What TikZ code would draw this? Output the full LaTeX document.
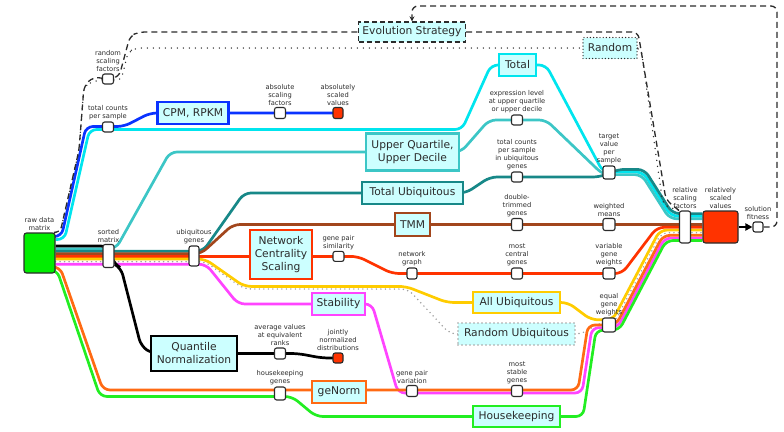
\documentclass[tikz,border=0pt]{standalone}
\usepackage{fontspec}
\setmainfont{DejaVu Sans}
\usetikzlibrary{arrows.meta,backgrounds}
\definecolor{ink}{HTML}{2B2B2B}
\definecolor{pale}{HTML}{CCFFFF}
\definecolor{cblue}{HTML}{0A33FF}
\definecolor{ccyan}{HTML}{00E5EE}
\definecolor{cteal}{HTML}{3CC6C6}
\definecolor{cdteal}{HTML}{178888}
\definecolor{cbrown}{HTML}{A2461C}
\definecolor{cred}{HTML}{FF3300}
\definecolor{cyellow}{HTML}{FFCC00}
\definecolor{cmagenta}{HTML}{FF44FF}
\definecolor{corange}{HTML}{FF6A13}
\definecolor{cgreen}{HTML}{22EE22}
\definecolor{cgray}{HTML}{A0A0A0}
\definecolor{rawgreen}{HTML}{00EE00}

\begin{document}
\begin{tikzpicture}[x=1pt, y=-1pt,
    route/.style={line width=2.7pt, rounded corners=7pt},
    stn/.style={draw=ink, fill=white, line width=1.1pt, rounded corners=2.2pt,
      inner sep=0pt, minimum width=11pt, minimum height=11pt},
    sink/.style={stn, fill=cred},
    lbl/.style={font=\fontsize{6.7}{8}\selectfont, text=ink, align=center, inner sep=1.2pt},
    algo/.style={fill=pale, line width=2.5pt, text=ink, align=center, inner sep=0pt,
      font=\fontsize{10.7}{13}\selectfont},
    esline/.style={draw=ink, line width=1.3pt, dash pattern=on 6pt off 4pt, rounded corners=6pt},
    rndline/.style={draw=ink, line width=1.5pt, dash pattern=on 0pt off 6pt, line cap=round, rounded corners=6pt}]
  % fixed 784 x 431 canvas, y grows downwards
  \useasboundingbox (0,0) rectangle (784,431);

  % ================= stations =================
  \node[draw=ink, fill=rawgreen, line width=1.1pt, rounded corners=2.5pt, inner sep=0pt,
        minimum width=31pt, minimum height=40pt,
        label={[lbl]above:{raw data\\matrix}}] (raw) at (39.5,253) {};
  \node[stn, minimum height=23pt, label={[lbl]above:{sorted\\matrix}}] (sorted) at (108.5,256) {};
  \node[stn, minimum width=10pt, minimum height=20pt, label={[lbl]above:{ubiquitous\\genes}}] (ubi) at (194,256) {};
  \node[stn, minimum height=10pt, label={[lbl]above:{random\\scaling\\factors}}] (rand) at (108,79) {};
  \node[stn, minimum height=10pt, label={[lbl]above:{total counts\\per sample}}] (tcps) at (108,127) {};
  \node[stn, label={[lbl]above:{absolute\\scaling\\factors}}] (asf) at (280,113) {};
  \node[sink, minimum width=10pt, label={[lbl]above:{absolutely\\scaled\\values}}] (asv) at (338,113) {};
  \node[stn, minimum height=10pt, label={[lbl]above:{expression level\\at upper quartile\\or upper decile}}] (exp) at (517,120) {};
  \node[stn, minimum height=10pt, label={[lbl]above:{total counts\\per sample\\in ubiquitous\\genes}}] (tcpsug) at (517,177) {};
  \node[stn, minimum width=12pt, minimum height=13pt, label={[lbl]above:{target\\value\\per\\sample}}] (tvps) at (609,172.5) {};
  \node[stn, minimum height=12pt, label={[lbl]above:{double-\\trimmed\\genes}}] (dtg) at (517,224.5) {};
  \node[stn, minimum width=12pt, minimum height=12pt, label={[lbl]above:{weighted\\means}}] (wm) at (609,224.5) {};
  \node[stn, minimum height=10pt, label={[lbl]above:{gene pair\\similarity}}] (gps) at (338.5,256.4) {};
  \node[stn, minimum width=10pt, label={[lbl]above:{network\\graph}}] (ng) at (412,273.5) {};
  \node[stn, label={[lbl]above:{most\\central\\genes}}] (mcg) at (517,273.5) {};
  \node[stn, minimum width=12pt, label={[lbl]above:{variable\\gene\\weights}}] (vgw) at (609,273.5) {};
  \node[stn, minimum width=13pt, minimum height=14pt, label={[lbl]above:{equal\\gene\\weights}}] (egw) at (609,325) {};
  \node[stn, label={[lbl]above:{average values\\at equivalent\\ranks}}] (avg) at (280,353.5) {};
  \node[sink, minimum width=10pt, minimum height=10pt, label={[lbl]above:{jointly\\normalized\\distributions}}] (jnd) at (338,358) {};
  \node[stn, minimum height=13pt, label={[lbl]above:{housekeeping\\genes}}] (hk) at (280,393.5) {};
  \node[stn, label={[lbl]above:{gene pair\\variation}}] (gpv) at (412,391) {};
  \node[stn, label={[lbl]above:{most\\stable\\genes}}] (msg) at (517,391) {};
  \node[stn, minimum height=32pt, label={[lbl]above:{relative\\scaling\\factors}}] (rsf) at (685,227) {};
  \node[draw=ink, fill=cred, line width=1.1pt, rounded corners=2.5pt, inner sep=0pt,
        minimum width=35pt, minimum height=32pt,
        label={[lbl]above:{relatively\\scaled\\values}}] (rsv) at (720.5,227) {};
  \node[stn, minimum width=10pt, minimum height=10pt, label={[lbl]above:{solution\\fitness}}] (fit) at (758,227) {};

  % ================= methods =================
  \node[algo, draw=cblue, minimum width=71pt, minimum height=22pt] (cpm) at (193,113) {CPM, RPKM};
  \node[algo, draw=ccyan, minimum width=37pt, minimum height=22pt] (total) at (517.5,65) {Total};
  \node[algo, draw=cteal, minimum width=93pt, minimum height=37pt] (uq) at (412.5,152) {Upper Quartile,\\Upper Decile};
  \node[algo, draw=cdteal, minimum width=101pt, minimum height=22pt] (tu) at (412.5,193) {Total Ubiquitous};
  \node[algo, draw=cbrown, minimum width=35pt, minimum height=23pt] (tmm) at (412.5,224.5) {TMM};
  \node[algo, draw=cred, minimum width=62pt, minimum height=49pt] (ncs) at (281,254.5) {Network\\Centrality\\Scaling};
  \node[algo, draw=cmagenta, minimum width=53pt, minimum height=22pt] (stab) at (338.5,304) {Stability};
  \node[algo, draw=cyellow, minimum width=87pt, minimum height=21pt] (aub) at (516.5,302.5) {All Ubiquitous};
  \node[algo, draw=cgray, dash pattern=on 0pt off 4pt, line cap=round, line width=1.6pt,
        minimum width=117pt, minimum height=22pt] (rub) at (516.5,334) {Random Ubiquitous};
  \node[algo, draw=black, minimum width=86pt, minimum height=35pt] (qn) at (194,353.5) {Quantile\\Normalization};
  \node[algo, draw=corange, minimum width=54pt, minimum height=22pt] (genorm) at (339,392) {geNorm};
  \node[algo, draw=cgreen, minimum width=87pt, minimum height=21pt] (hkb) at (516.5,416.5) {Housekeeping};
  \node[algo, draw=ink, dash pattern=on 5pt off 3pt, line width=1.3pt,
        minimum width=107pt, minimum height=20pt] (es) at (412,32) {Evolution Strategy};
  \node[algo, draw=ink, dash pattern=on 0pt off 3.2pt, line cap=round, line width=1.4pt,
        minimum width=54pt, minimum height=21pt] (rnd) at (610,48) {Random};

  % ================= routes =================
  \begin{pgfonlayer}{background}
    % random ubiquitous genes (dotted)
    \draw[route, cgray, line width=1.7pt, dash pattern=on 0pt off 4.5pt, line cap=round]
      (raw.east |- 0,261.6) -- (205,261.6) -- (244,289) -- (408,289) -- (450,334) -- (rub.center)
      -- (582,334) -- (600,322.4) -- (614.4,322.4) -- (661.4,232.7) -- (rsv.west |- 0,232.7);
    % absolute scaling
    \draw[route, cblue] (raw.east |- 0,236.5) -- (61.5,236.5) -- (86,126.5) -- (124,126.5)
      -- (150,113) -- (cpm.center) -- (asf.center) -- (asv.center);
    % relative scaling, top bundle
    \draw[route, ccyan] (raw.east |- 0,239.5) -- (64.5,239.5) -- (89.5,129.5) -- (462,129.5)
      -- (491,65) -- (total.center) -- (546,65) -- (603,172) -- (643,172) -- (671,216.2)
      -- (rsv.west |- 0,216.2);
    \draw[route, cteal] (raw.east |- 0,248.6) -- (116,248.6) -- (170,152) -- (uq.center)
      -- (461,152) -- (489,120) -- (exp.center) -- (546,120) -- (603,174.6) -- (641.6,174.6)
      -- (669.6,218.8) -- (rsv.west |- 0,218.8);
    \draw[route, cdteal] (raw.east |- 0,251.2) -- (203,251.2) -- (244,193) -- (tu.center)
      -- (466,193) -- (490,177) -- (tcpsug.center) -- (600,177) -- (618,169.4) -- (644.4,169.4)
      -- (672.4,213.6) -- (rsv.west |- 0,213.6);
    \draw[route, cbrown] (raw.east |- 0,253.8) -- (201,253.8) -- (233,224.5) -- (tmm.center)
      -- (dtg.center) -- (wm.center) -- (rsv.west |- 0,224.5);
    \draw[route, cred] (raw.east |- 0,256.4) -- (gps.center) -- (358,256.4) -- (392,273.5)
      -- (ng.center) -- (mcg.center) -- (vgw.center) -- (622,273.5) -- (657,227.3)
      -- (rsv.west |- 0,227.3);
    % relative scaling, lower bundle
    \draw[route, cyellow] (raw.east |- 0,259) -- (205,259) -- (244,286.4) -- (406,286.4)
      -- (447,302.5) -- (aub.center) -- (568,302.5) -- (591,319.8) -- (612.85,319.8)
      -- (659.85,230.1) -- (rsv.west |- 0,230.1);
    \draw[route, cmagenta] (raw.east |- 0,264.2) -- (206,264.2) -- (238,304) -- (stab.center)
      -- (372,304) -- (398,393) -- (582,393) -- (592,327.6) -- (617.6,327.6)
      -- (664.6,237.9) -- (rsv.west |- 0,237.9);
    \draw[route, corange] (raw.east |- 0,267) -- (60,267) -- (103,390) -- (578,390)
      -- (588,325) -- (616,325) -- (663,235.3) -- (rsv.west |- 0,235.3);
    \draw[route, cgreen] (raw.east |- 0,270) -- (57,270) -- (100,396.5) -- (292,396.5)
      -- (316,416.5) -- (hkb.center) -- (583,416.5) -- (596,330.2) -- (619.15,330.2)
      -- (666.15,240.5) -- (rsv.west |- 0,240.5);
    % quantile normalization
    \draw[route, black] (raw.east |- 0,246) -- (108,246) -- (114,264) -- (121,268) -- (141,346)
      -- (152,353.5) -- (qn.center) -- (avg.center) -- (298,353.5) -- (322,358) -- (jnd.center);
    % evolution strategy loop
    \draw[esline] (raw.north east) -- (60,233) -- (79,150) -- (84,86) -- (93,77) -- (rand.center)
      -- (119,77) -- (130,36) -- (139,32) -- (es.west);
    \draw[esline] (es.east) -- (638,32) -- (666,200) -- (rsf.north west);
    \draw[esline, -{Stealth[length=5pt,width=5pt]}] (fit.east) -- (777,227) -- (777,6) -- (412,6) -- (es.north);
    % random scaling
    \draw[rndline] (raw.north east) -- (60,233) -- (79,150) -- (84,86) -- (94,81) -- (rand.center)
      -- (121,81) -- (128,52) -- (136,48) -- (rnd.west);
    \draw[rndline] (rnd.east) -- (641,48) -- (663,205) -- (rsf.north west);
  \end{pgfonlayer}

  % fitness of the scaled values
  \draw[line width=2pt, -{Triangle[length=7pt,width=7pt]}] (rsv) -- (fit);
\end{tikzpicture}
\end{document}
